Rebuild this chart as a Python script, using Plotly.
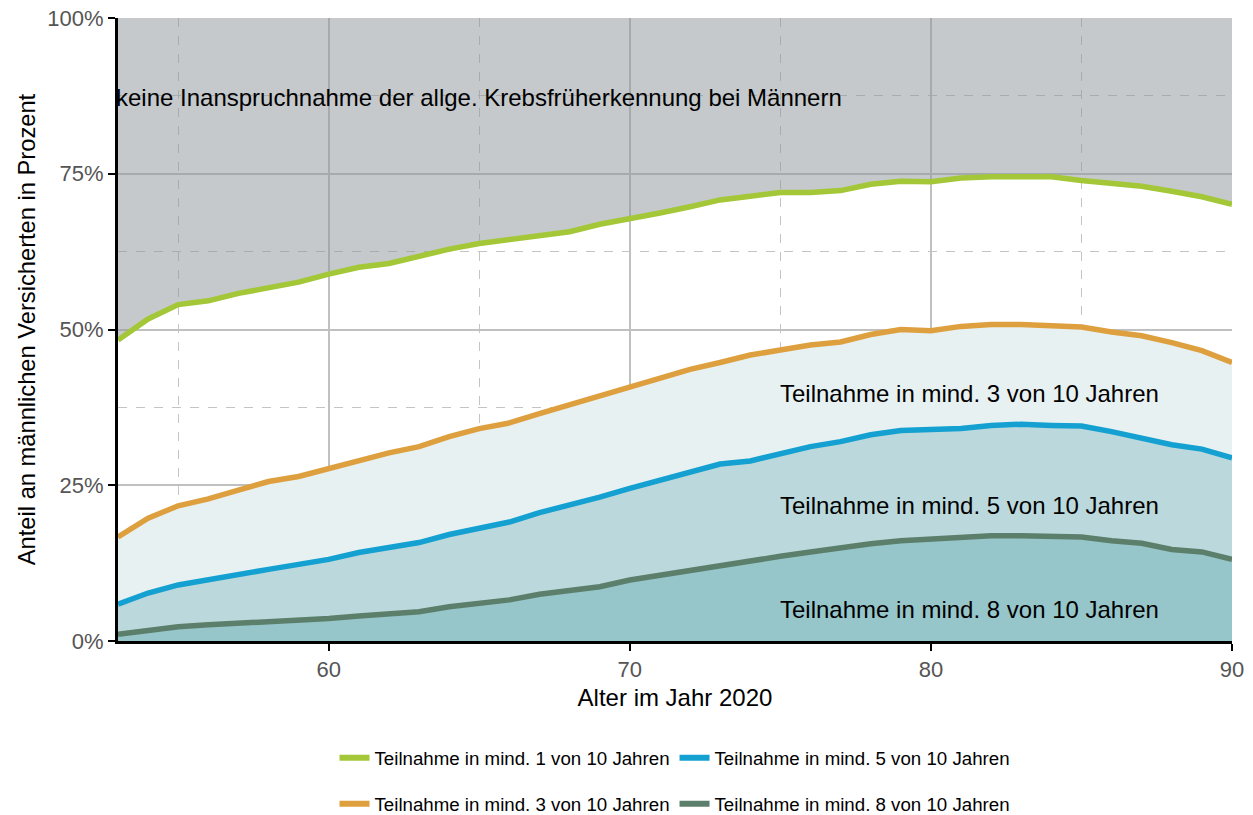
import plotly.graph_objects as go

ages = list(range(53, 91))

teilnahme_1 = [48.3, 51.7, 54.0, 54.6, 55.8, 56.8, 57.6, 58.9, 60.0, 60.6,
               61.8, 62.9, 63.8, 64.5, 65.2, 65.7, 66.9, 67.7, 68.7, 69.7,
               70.8, 71.4, 72.0, 72.0, 72.3, 73.3, 73.8, 73.7, 74.3, 74.5,
               74.5, 74.5, 73.9, 73.4, 73.0, 72.2, 71.3, 70.1]

teilnahme_3 = [16.7, 19.7, 21.7, 22.8, 24.2, 25.6, 26.4, 27.7, 28.9, 30.2,
               31.2, 32.8, 34.1, 35.0, 36.5, 37.9, 39.2, 40.7, 42.1, 43.6,
               44.7, 45.9, 46.7, 47.5, 48.0, 49.2, 50.0, 49.8, 50.5, 50.8,
               50.8, 50.7, 50.4, 49.6, 49.0, 47.9, 46.6, 44.7]

teilnahme_5 = [5.9, 7.7, 9.0, 9.9, 10.75, 11.5, 12.3, 13.1, 14.2, 15.1,
               15.8, 17.1, 18.2, 19.1, 20.6, 21.8, 23.1, 24.5, 25.8, 27.2,
               28.4, 28.9, 30.1, 31.2, 32.0, 33.1, 33.8, 33.9, 34.1, 34.6,
               34.8, 34.6, 34.5, 33.6, 32.6, 31.5, 30.8, 29.4]

teilnahme_8 = [1.1, 1.8, 2.3, 2.6, 2.8, 3.1, 3.4, 3.6, 4.0, 4.4,
               4.7, 5.5, 6.1, 6.6, 7.5, 8.2, 8.7, 9.8, 10.6, 11.4,
               12.1, 13.0, 13.6, 14.3, 15.0, 15.6, 16.1, 16.4, 16.6, 16.9,
               16.9, 16.8, 16.7, 16.1, 15.7, 14.7, 14.3, 13.1]

obergrenze = [100] * len(ages)

names = {
    "t1": "Teilnahme in mind. 1 von 10 Jahren",
    "t3": "Teilnahme in mind. 3 von 10 Jahren",
    "t5": "Teilnahme in mind. 5 von 10 Jahren",
    "t8": "Teilnahme in mind. 8 von 10 Jahren",
}

FONT = "Liberation Sans, Arial, sans-serif"
C_GREEN = "#a3c737"
C_ORANGE = "#dea03e"
C_BLUE = "#14a1d1"
C_DARK = "#5b7f6b"
LW = 5.5

fig = go.Figure()

# stacked areas and lines
fig.add_trace(go.Scatter(x=ages, y=teilnahme_8, mode="lines", showlegend=False,
                         line=dict(color=C_DARK, width=LW), fill="tozeroy",
                         fillcolor="#96c6ca"))
fig.add_trace(go.Scatter(x=ages, y=teilnahme_5, mode="lines", showlegend=False,
                         line=dict(color=C_BLUE, width=LW), fill="tonexty",
                         fillcolor="#bbd9dc"))
fig.add_trace(go.Scatter(x=ages, y=teilnahme_3, mode="lines", showlegend=False,
                         line=dict(color=C_ORANGE, width=LW), fill="tonexty",
                         fillcolor="#e8f1f2"))
fig.add_trace(go.Scatter(x=ages, y=teilnahme_1, mode="lines", showlegend=False,
                         line=dict(color=C_GREEN, width=LW)))
fig.add_trace(go.Scatter(x=ages, y=obergrenze, mode="lines", showlegend=False,
                         line=dict(width=0, color="rgba(0,0,0,0)"), fill="tonexty",
                         fillcolor="rgba(140,147,154,0.5)", hoverinfo="skip"))

# legend-only entries (line symbols without fill)
legend_entries = [
    ("t1", C_GREEN, "legend"),
    ("t5", C_BLUE, "legend"),
    ("t3", C_ORANGE, "legend2"),
    ("t8", C_DARK, "legend2"),
]
for key, col, leg in legend_entries:
    fig.add_trace(go.Scatter(x=[None], y=[None], mode="lines", name=names[key],
                             line=dict(color=col, width=6), legend=leg))

ann_font = dict(family=FONT, size=24, color="#000000")
fig.add_annotation(x=53, y=87.3, text="keine Inanspruchnahme der allge. Krebsfrüherkennung bei Männern",
                   showarrow=False, xanchor="left", yanchor="middle", font=ann_font, xshift=-4)
fig.add_annotation(x=75, y=39.8, text=names["t3"], showarrow=False,
                   xanchor="left", yanchor="middle", font=ann_font, xshift=-2)
fig.add_annotation(x=75, y=21.8, text=names["t5"], showarrow=False,
                   xanchor="left", yanchor="middle", font=ann_font, xshift=-2)
fig.add_annotation(x=75, y=5.0, text=names["t8"], showarrow=False,
                   xanchor="left", yanchor="middle", font=ann_font, xshift=-2)

leg_common = dict(orientation="h", xanchor="center", x=0.5, xref="paper",
                  yanchor="middle", yref="container", traceorder="normal",
                  font=dict(family=FONT, size=18.7, color="#000000"),
                  bgcolor="rgba(0,0,0,0)", itemwidth=30, tracegroupgap=0)
fig.update_layout(
    width=1253, height=815,
    margin=dict(l=118, r=21, t=18, b=174, autoexpand=False),
    paper_bgcolor="white", plot_bgcolor="white",
    font=dict(family=FONT),
    legend=dict(y=1 - 758 / 815, **leg_common),
    legend2=dict(y=1 - 804 / 815, **leg_common),
    xaxis=dict(
        range=[53, 90], tickmode="linear", tick0=60, dtick=10,
        showgrid=True, gridcolor="#c0c0c0", gridwidth=2,
        minor=dict(tickmode="linear", tick0=55, dtick=10, showgrid=True,
                   gridcolor="#c4c4c4", griddash="dash", gridwidth=1, ticklen=0),
        showline=True, linecolor="#000000", linewidth=3,
        ticks="outside", ticklen=7, tickwidth=2, tickcolor="#000000",
        tickfont=dict(family=FONT, size=22, color="#555555"),
        title=dict(text="Alter im Jahr 2020", standoff=8,
                   font=dict(family=FONT, size=24, color="#000000")),
        zeroline=False, automargin=False,
    ),
    yaxis=dict(
        range=[0, 100], tickmode="linear", tick0=0, dtick=25, ticksuffix="%",
        showgrid=True, gridcolor="#c0c0c0", gridwidth=2,
        minor=dict(tickmode="linear", tick0=12.5, dtick=25, showgrid=True,
                   gridcolor="#c4c4c4", griddash="dash", gridwidth=1, ticklen=0),
        showline=True, linecolor="#000000", linewidth=3,
        ticks="outside", ticklen=7, tickwidth=2, tickcolor="#000000",
        tickfont=dict(family=FONT, size=22, color="#555555"),
        title=dict(text="Anteil an männlichen Versicherten in Prozent", standoff=6,
                   font=dict(family=FONT, size=23.7, color="#000000")),
        zeroline=False, automargin=False,
    ),
)

fig.write_html("out.html", config={"displayModeBar": False},
               post_script="document.body.style.margin='0px';")
